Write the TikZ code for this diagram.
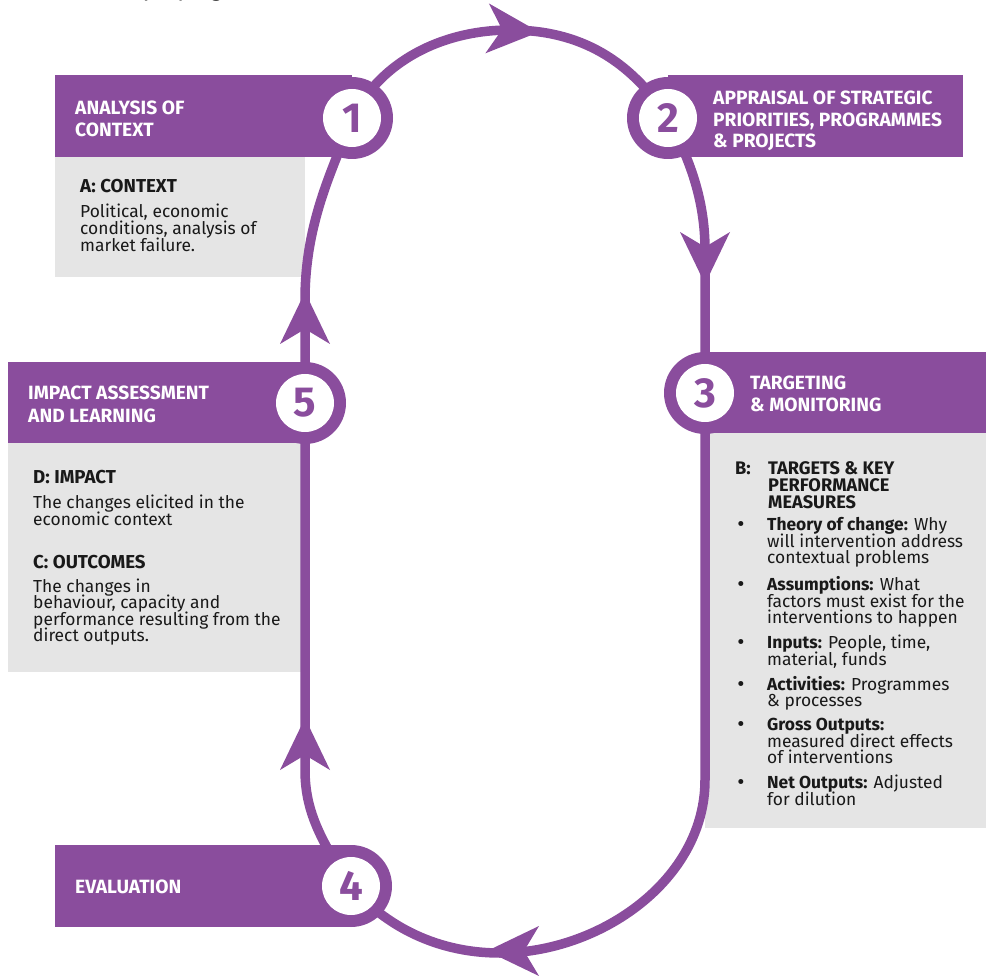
\documentclass[tikz,border=0pt]{standalone}
\usepackage{fontspec}
\setmainfont{Fira Sans}
\newfontfamily\fragfont{Carlito}
\definecolor{purp}{RGB}{138,77,157}
\definecolor{lgray}{RGB}{229,229,229}
\definecolor{ink}{RGB}{25,25,25}
\tikzset{
  ttl/.style={font=\fontsize{19.2}{21}\selectfont\bfseries, text=white, anchor=base west, inner sep=0pt},
  hdr/.style={font=\fontsize{18.7}{17}\selectfont\bfseries, text=ink, anchor=base west, inner sep=0pt},
  hdrb/.style={font=\fontsize{18.2}{17}\selectfont\bfseries, text=ink, anchor=base west, inner sep=0pt},
  bod/.style={font=\fontsize{17.4}{17}\selectfont, text=ink, anchor=base west, inner sep=0pt},
  bul/.style={font=\fontsize{22}{17}\selectfont, text=ink, anchor=base, inner sep=0pt},
  numc/.style={circle, fill=white, minimum size=58pt, inner sep=0pt, text=purp, font=\fontsize{42}{42}\selectfont\bfseries},
  loopline/.style={draw=purp, line width=9.5pt},
  ahead/.pic={\fill[purp] (0,0) -- (-52,-25) -- (-37,0) -- (-52,25) -- cycle;}
}
\begin{document}
\begin{tikzpicture}[x=1pt,y=-1pt]
\useasboundingbox (0,0) rectangle (986,976);
% cropped caption fragment at the very top
\node[font=\fragfont\fontsize{27.5}{27.5}\selectfont, anchor=base west, inner sep=0pt] (frag) at (111.5,-3) {displaying};
% anchor points
\coordinate (p1) at (352,118);
\coordinate (p2) at (668,118);
\coordinate (p3) at (705,393);
\coordinate (p4) at (351,886);
\coordinate (p5) at (305,403);
% grey boxes
\fill[lgray] (55,157) rectangle (305,277);
\fill[lgray] (8,443) rectangle (305,672);
\fill[lgray] (705,433) rectangle (986,828);
% loop
\draw[loopline] (p1) .. controls (385,55) and (450,30) .. (510,30)
  .. controls (580,30) and (630,60) .. (p2)
  .. controls (690,160) and (705,200) .. (705,250)
  -- (p3) -- (705,780)
  .. controls (705,880) and (600,953) .. (500,953)
  .. controls (430,953) and (380,920) .. (p4)
  .. controls (320,840) and (305,810) .. (305,770)
  -- (p5) -- (305,300)
  .. controls (305,220) and (335,165) .. (p1);
% headers
\fill[purp] (55,75) rectangle (352,157);
\fill[purp] (p1) circle[radius=41];
\fill[purp] (668,75) rectangle (963,157);
\fill[purp] (p2) circle[radius=41];
\fill[purp] (705,352) rectangle (986,433);
\fill[purp] (p3) circle[radius=41];
\fill[purp] (8,362) rectangle (305,443);
\fill[purp] (p5) circle[radius=41];
\fill[purp] (55,845) rectangle (351,927);
\fill[purp] (p4) circle[radius=41];
% numbered circles
\node[numc] (c1) at (p1) {1};
\node[numc] (c2) at (p2) {2};
\node[numc] (c3) at (p3) {3};
\node[numc] (c4) at (p4) {4};
\node[numc] (c5) at (p5) {5};
% arrowheads
\pic[rotate=-4] at (539,32) {ahead};
\pic[rotate=-90] at (705,284) {ahead};
\pic[rotate=90] at (305,292) {ahead};
\pic[rotate=90] at (305,718) {ahead};
\pic[rotate=180] at (487,951) {ahead};
% titles
\node[ttl] (t1a) at (75,115) {ANALYSIS OF};
\node[ttl] (t1b) at (75,137) {CONTEXT};
\node[ttl] (t2a) at (713,105) {APPRAISAL OF STRATEGIC};
\node[ttl] (t2b) at (713,127) {PRIORITIES, PROGRAMMES};
\node[ttl] (t2c) at (713,148) {\& PROJECTS};
\node[ttl] (t3a) at (750,390) {TARGETING};
\node[ttl] (t3b) at (750,412) {\& MONITORING};
\node[ttl] (t5a) at (28,400) {IMPACT ASSESSMENT};
\node[ttl] (t5b) at (28,422) {AND LEARNING};
\node[ttl] (t4a) at (75,893) {EVALUATION};
% box A
\node[hdr] (a0) at (80,193) {A: CONTEXT};
\node[bod] (a1) at (80,218) {Political, economic};
\node[bod] (a2) at (80,235) {conditions, analysis of};
\node[bod] (a3) at (80,252) {market failure.};
% box D/C
\node[hdr] (d0) at (33,483) {D: IMPACT};
\node[bod] (d1) at (33,508) {The changes elicited in the};
\node[bod] (d2) at (33,525) {economic context};
\node[hdr] (e0) at (33,568) {C: OUTCOMES};
\node[bod] (e1) at (33,592) {The changes in};
\node[bod] (e2) at (33,608) {behaviour, capacity and};
\node[bod] (e3) at (33,625) {performance resulting from the};
\node[bod] (e4) at (33,641) {direct outputs.};
% box B
\node[hdrb] (b0) at (735,474) {B:};
\node[hdrb] (b1) at (768,474) {TARGETS \& KEY};
\node[hdrb] (b2) at (768,491) {PERFORMANCE};
\node[hdrb] (b3) at (768,508) {MEASURES};
\foreach \yy/\nm in {531/1,591/2,649/3,691/4,731/5,789/6}
  \node[bul] (u\nm) at (741,\yy) {•};
\node[bod] (s1a) at (767,530) {\textbf{Theory of change:} Why};
\node[bod] (s1b) at (767,547) {will intervention address};
\node[bod] (s1c) at (767,563) {contextual problems};
\node[bod] (s2a) at (767,590) {\textbf{Assumptions:} What};
\node[bod] (s2b) at (767,607) {factors must exist for the};
\node[bod] (s2c) at (767,623) {interventions to happen};
\node[bod] (s3a) at (767,648) {\textbf{Inputs:} People, time,};
\node[bod] (s3b) at (767,665) {material, funds};
\node[bod] (s4a) at (767,690) {\textbf{Activities:} Programmes};
\node[bod] (s4b) at (767,706) {\& processes};
\node[bod] (s5a) at (767,730) {\textbf{Gross Outputs:}};
\node[bod] (s5b) at (767,747) {measured direct effects};
\node[bod] (s5c) at (767,763) {of interventions};
\node[bod] (s6a) at (767,788) {\textbf{Net Outputs:} Adjusted};
\node[bod] (s6b) at (767,805) {for dilution};
\end{tikzpicture}
\end{document}
